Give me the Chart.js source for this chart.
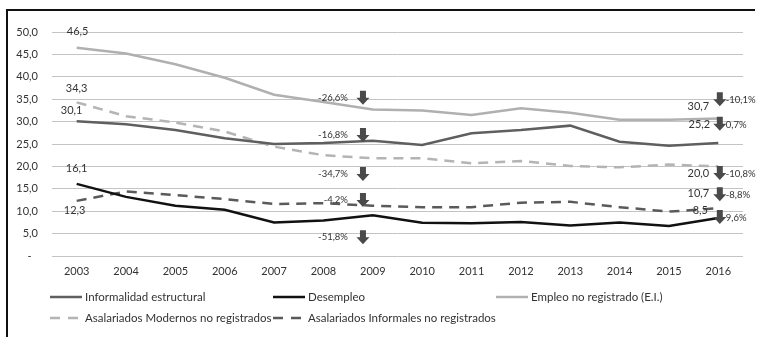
<!DOCTYPE html>
<html>
<head>
<meta charset="utf-8">
<script src="https://cdn.jsdelivr.net/npm/chart.js@4/dist/chart.umd.min.js"></script>
<style>
	html, body {margin: 0; padding: 0; background: #ffffff;}
	#wrap {position: relative; width: 757px; height: 337px; overflow: hidden;}
	#frame {position: absolute; left: 6px; top: 9px; width: 747px; height: 340px; border-top: 2px solid #111; border-left: 2px solid #111;}
	canvas {position: absolute; left: 0; top: 0;}
</style>
</head>
<body>
<div id="wrap">
	<canvas id="chart" width="757" height="337"></canvas>
	<div id="frame"></div>
</div>
<script>
const years = ["2003", "2004", "2005", "2006", "2007", "2008", "2009", "2010", "2011", "2012", "2013", "2014", "2015", "2016"];

const informalidad = [30.1, 29.4, 28.1, 26.3, 25.0, 25.2, 25.7, 24.8, 27.4, 28.1, 29.1, 25.5, 24.6, 25.2];
const desempleo = [16.1, 13.2, 11.2, 10.3, 7.5, 7.9, 9.1, 7.4, 7.3, 7.6, 6.8, 7.5, 6.7, 8.5];
const empleoNoRegistrado = [46.5, 45.2, 42.8, 39.8, 36.0, 34.4, 32.7, 32.5, 31.5, 33.0, 32.0, 30.4, 30.4, 30.7];
const modernosNoRegistrados = [34.3, 31.2, 29.8, 27.8, 24.4, 22.5, 21.8, 21.8, 20.7, 21.2, 20.1, 19.8, 20.4, 20.0];
const informalesNoRegistrados = [12.3, 14.4, 13.6, 12.7, 11.6, 11.8, 11.2, 10.9, 10.9, 11.9, 12.1, 10.9, 9.9, 10.7];

// variation arrows (x as category index, y in axis units)
const change2009Text = ["-26,6%", "-16,8%", "-34,7%", "-4,2%", "-51,8%"];
const change2009Y = [35.3, 27.0, 18.3, 12.5, 4.2];
const change2016Text = ["-10,1%", "0,7%", "-10,8%", "-8,8%", "9,6%"];
const change2016Y = [35.0, 29.5, 18.5, 13.8, 8.7];

function fmt(v) {
	return v.toFixed(1).replace(".", ",");
}

const FONT = "Lato, 'Open Sans', sans-serif";
const TEXT = "#333333";

// value labels at first and last year: [dataset, index, dx, dy]
const valueLabels = [
	[2, 0, 1, -16], [3, 0, 0, -14], [0, 0, -5, -11], [1, 0, 0, -15], [4, 0, -2, 10],
	[2, 13, -20, -12], [0, 13, -19, -19], [3, 13, -20, 7], [4, 13, -20, -15], [1, 13, -18, -7],
];

const extrasPlugin = {
	id: "extras",
	afterDatasetsDraw(chart) {
		const ctx = chart.ctx;
		const xs = chart.scales.x;
		const ys = chart.scales.y;

		ctx.save();
		ctx.fillStyle = TEXT;
		ctx.textBaseline = "middle";
		ctx.textAlign = "center";
		ctx.font = "11px " + FONT;
		for (const [d, i, dx, dy] of valueLabels) {
			const v = chart.data.datasets[d].data[i];
			ctx.fillText(fmt(v), xs.getPixelForValue(i) + dx, ys.getPixelForValue(v) + dy);
		}

		function arrow(x, y) {
			ctx.fillStyle = "#4a4a4a";
			ctx.beginPath();
			ctx.moveTo(x - 3, y - 7);
			ctx.lineTo(x + 3, y - 7);
			ctx.lineTo(x + 3, y);
			ctx.lineTo(x + 6.5, y);
			ctx.lineTo(x, y + 7);
			ctx.lineTo(x - 6.5, y);
			ctx.lineTo(x - 3, y);
			ctx.closePath();
			ctx.fill();
		}

		ctx.font = "9.5px " + FONT;
		const x09 = xs.getPixelForValue(5.8);
		change2009Y.forEach(function (v, k) {
			const y = ys.getPixelForValue(v);
			ctx.fillStyle = TEXT;
			ctx.textAlign = "right";
			ctx.fillText(change2009Text[k], x09 - 15, y);
			arrow(x09, y);
		});
		const x16 = xs.getPixelForValue(13.03);
		change2016Y.forEach(function (v, k) {
			const y = ys.getPixelForValue(v);
			ctx.fillStyle = TEXT;
			ctx.textAlign = "left";
			ctx.fillText(change2016Text[k], x16 + 6, y + 1);
			arrow(x16, y);
		});
		ctx.restore();
	},
	afterDraw(chart) {
		// legend laid out in columns like the original
		const ctx = chart.ctx;
		const cols = [50, 273, 496];
		const rows = [297, 318];
		ctx.save();
		ctx.font = "11.5px " + FONT;
		ctx.textBaseline = "middle";
		ctx.textAlign = "left";
		chart.data.datasets.forEach(function (ds, k) {
			const x = cols[k % 3];
			const y = rows[Math.floor(k / 3)];
			ctx.strokeStyle = ds.borderColor;
			ctx.lineWidth = 2.5;
			ctx.setLineDash(ds.borderDash ? [10, 8] : []);
			ctx.beginPath();
			ctx.moveTo(x, y);
			ctx.lineTo(x + 32, y);
			ctx.stroke();
			ctx.setLineDash([]);
			ctx.fillStyle = TEXT;
			ctx.fillText(ds.label, x + 35, y);
		});
		ctx.restore();
	},
};

function draw() {
	Chart.defaults.font.family = FONT;
	new Chart(document.getElementById("chart"), {
		"type": "line",
		"data": {
			"labels": years,
			"datasets": [
				{"label": "Informalidad estructural", "data": informalidad, "borderColor": "#5f5f5f"},
				{"label": "Desempleo", "data": desempleo, "borderColor": "#111111"},
				{"label": "Empleo no registrado (E.I.)", "data": empleoNoRegistrado, "borderColor": "#b0b0b0"},
				{"label": "Asalariados Modernos no registrados", "data": modernosNoRegistrados, "borderColor": "#b4b4b4", "borderDash": [10, 7]},
				{"label": "Asalariados Informales no registrados", "data": informalesNoRegistrados, "borderColor": "#5a5a5a", "borderDash": [10, 7]},
			].map((ds) => ({...ds, "borderWidth": 2.5, "pointRadius": 0, "tension": 0, "fill": false})),
		},
		"options": {
			"responsive": false,
			"animation": false,
			"devicePixelRatio": 1,
			"layout": {"padding": {"top": 32, "right": 14, "bottom": 0, "left": 0}},
			"plugins": {
				"legend": {"display": false},
				"tooltip": {"enabled": false},
			},
			"scales": {
				"x": {
					"offset": true,
					"grid": {"display": false, "drawTicks": false},
					"border": {"display": false},
					"ticks": {"color": TEXT, "font": {"size": 11}, "padding": 9, "maxRotation": 0, "autoSkip": false},
					"afterFit": (s) => { s.height = 81; },
				},
				"y": {
					"min": 0,
					"max": 50,
					"grid": {"color": "#c4c4c4", "drawTicks": false},
					"border": {"display": false},
					"ticks": {
						"stepSize": 5,
						"color": TEXT,
						"font": {"size": 11},
						"padding": 14,
						"callback": (v) => v == 0 ? "-\u2007" : fmt(v),
					},
					"afterFit": (s) => { s.width = 52; },
				},
			},
		},
		"plugins": [extrasPlugin],
	});
}

document.fonts.load("11px Lato").then(draw, draw);
</script>
</body>
</html>
